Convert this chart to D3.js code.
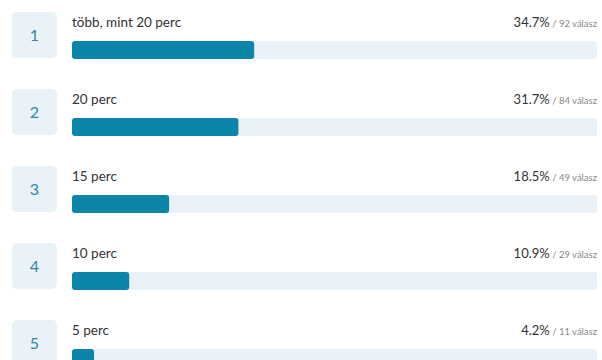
<!DOCTYPE html>
<html>
<head>
<meta charset="utf-8">
<script src="https://cdn.jsdelivr.net/npm/d3@7"></script>
<style>
  body { margin: 0; background: #fff; }
  text { font-family: Lato, "Open Sans", sans-serif; }
</style>
</head>
<body>
<div id="chart"></div>
<script>
// Data
var ranks = [1, 2, 3, 4, 5];
var labels = ["több, mint 20 perc", "20 perc", "15 perc", "10 perc", "5 perc"];
var percents = [34.7, 31.7, 18.5, 10.9, 4.2];
var counts = [92, 84, 49, 29, 11];

var width = 602, height = 360;

var svg = d3.select("#chart").append("svg")
    .attr("width", width)
    .attr("height", height);

// Rows are stacked 77px apart
var y = d3.scaleBand()
    .domain(ranks)
    .range([12, 12 + 77 * ranks.length])
    .paddingInner(0);

// Bar length scale: 0-100% over the full track
var x = d3.scaleLinear()
    .domain([0, 100])
    .range([72, 597]);

var rows = svg.selectAll(".row")
    .data(ranks)
    .enter().append("g")
    .attr("class", "row")
    .attr("transform", function (d) { return "translate(0," + y(d) + ")"; });

// Number box
rows.append("rect")
    .attr("x", 12)
    .attr("y", 0)
    .attr("width", 45)
    .attr("height", 46)
    .attr("rx", 5)
    .attr("fill", "#e9f2f6");

rows.append("text")
    .attr("x", 34.5)
    .attr("y", 29)
    .attr("text-anchor", "middle")
    .style("font-size", "16px")
    .attr("fill", "#2b86ad")
    .text(function (d) { return d; });

// Answer label
rows.append("text")
    .attr("x", 72)
    .attr("y", 15)
    .style("font-size", "13.5px")
    .attr("fill", "#333")
    .text(function (d, i) { return labels[i]; });

// Track
rows.append("rect")
    .attr("x", x(0))
    .attr("y", 29)
    .attr("width", x(100) - x(0))
    .attr("height", 18)
    .attr("rx", 3)
    .attr("fill", "#e9f2f6");

// Value bar
rows.append("rect")
    .attr("x", x(0))
    .attr("y", 29)
    .attr("width", function (d, i) { return x(percents[i]) - x(0); })
    .attr("height", 18)
    .attr("rx", 3)
    .attr("fill", "#0d84a9");

// Percent + count on the right
var info = rows.append("text")
    .attr("x", 597)
    .attr("y", 15)
    .attr("text-anchor", "end");

info.append("tspan")
    .style("font-size", "13px")
    .attr("fill", "#333")
    .text(function (d, i) { return percents[i].toFixed(1) + "%"; });

info.append("tspan")
    .style("font-size", "9.5px")
    .attr("fill", "#888")
    .text(function (d, i) { return " / " + counts[i] + " válasz"; });
</script>
</body>
</html>
